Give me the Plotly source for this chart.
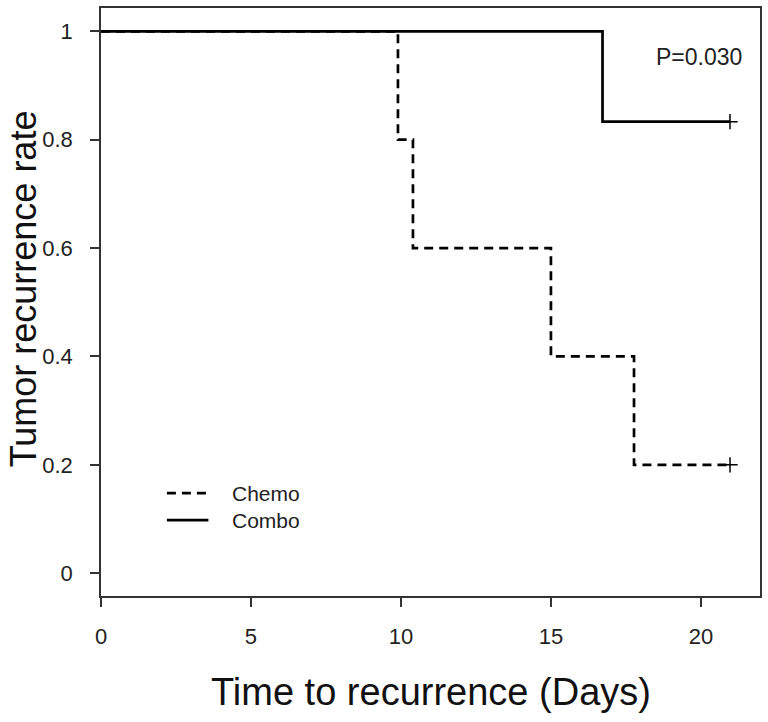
import plotly.graph_objects as go

# Data (Kaplan-Meier style step curves)
chemo_days = [0, 9.9, 10.4, 15.0, 17.77, 20.97]
chemo_rate = [1.0, 0.8, 0.6, 0.4, 0.2, 0.2]
combo_days = [0, 16.72, 20.97]
combo_rate = [1.0, 0.8333, 0.8333]
censor_days = [20.97, 20.97]
censor_rate = [0.8333, 0.2]

x_ticks = [0, 5, 10, 15, 20]
y_ticks = [0, 0.2, 0.4, 0.6, 0.8, 1]
y_tick_labels = ["0", "0.2", "0.4", "0.6", "0.8", "1"]

narrow = "Liberation Sans Narrow, Arial Narrow, Liberation Sans, Arial"
tick_font = dict(family=narrow, size=22, color="#222")
legend_font = dict(family="Liberation Sans, Arial", size=21, color="#222")

fig = go.Figure()
fig.add_trace(go.Scatter(x=chemo_days, y=chemo_rate, mode="lines", line_shape="hv",
                         line=dict(color="black", width=2.7, dash="9px,6px"), showlegend=False, name="Chemo"))
fig.add_trace(go.Scatter(x=combo_days, y=combo_rate, mode="lines", line_shape="hv",
                         line=dict(color="black", width=2.7), showlegend=False, name="Combo"))
fig.add_trace(go.Scatter(x=censor_days, y=censor_rate, mode="markers",
                         marker=dict(symbol="cross-thin", size=11, line=dict(color="black", width=1.5)),
                         showlegend=False))

# Legend drawn manually
fig.add_shape(type="line", xref="paper", yref="paper", x0=0.1, x1=0.163, y0=0.175, y1=0.175,
              line=dict(color="black", width=2.7, dash="9px,6px"))
fig.add_shape(type="line", xref="paper", yref="paper", x0=0.1, x1=0.163, y0=0.129, y1=0.129,
              line=dict(color="black", width=2.7))
fig.add_annotation(x=0.195, y=0.175, xref="paper", yref="paper", text="Chemo", showarrow=False,
                   xanchor="left", yanchor="middle", font=legend_font)
fig.add_annotation(x=0.195, y=0.129, xref="paper", yref="paper", text="Combo", showarrow=False,
                   xanchor="left", yanchor="middle", font=legend_font)
fig.add_annotation(x=0.976, y=0.917, xref="paper", yref="paper", text="P=0.030", showarrow=False,
                   xanchor="right", yanchor="middle", font=dict(family="Liberation Sans, Arial", size=23, color="#222"))

# Axis titles
fig.add_annotation(x=0.5, y=-0.163, xref="paper", yref="paper", text="Time to recurrence (Days)",
                   showarrow=False, xanchor="center", yanchor="middle",
                   font=dict(family="Liberation Sans, Arial", size=38, color="#111"))
fig.add_annotation(x=-0.117, y=0.523, xref="paper", yref="paper", text="Tumor recurrence rate",
                   showarrow=False, xanchor="center", yanchor="middle", textangle=-90,
                   font=dict(family="Liberation Sans, Arial", size=36, color="#111"))

fig.update_layout(
    width=768, height=722,
    margin=dict(l=101, r=8, t=6, b=126),
    paper_bgcolor="white", plot_bgcolor="white",
    xaxis=dict(range=[0, 21.97], tickvals=x_ticks, ticks="outside", ticklen=9, tickwidth=1.5,
               tickcolor="#333", showline=True, linecolor="#333", linewidth=1.5, mirror=True,
               showgrid=False, zeroline=False, tickfont=tick_font, ticklabelstandoff=11),
    yaxis=dict(range=[-0.042, 1.043], tickvals=y_ticks, ticktext=y_tick_labels, ticks="outside",
               ticklen=9, tickwidth=1.5, tickcolor="#333", showline=True, linecolor="#333", linewidth=1.5,
               mirror=True, showgrid=False, zeroline=False, tickfont=tick_font, ticklabelstandoff=13),
)

fig.write_html("out.html", config={"displayModeBar": False},
               post_script="document.body.style.margin='0';")
